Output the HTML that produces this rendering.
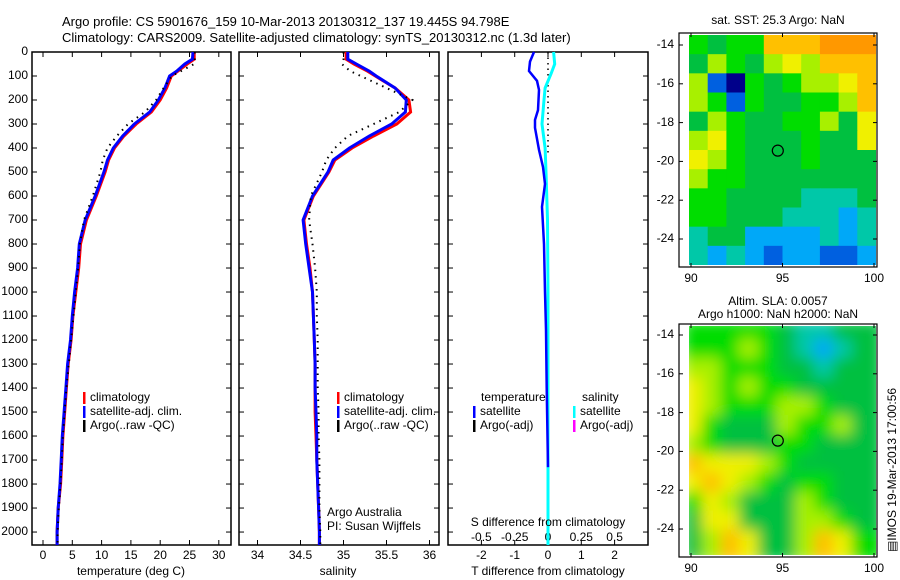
<!DOCTYPE html>
<html><head><meta charset="utf-8">
<style>
html,body{margin:0;padding:0;background:#fff;}
svg{display:block;font-family:"Liberation Sans",sans-serif;font-size:12px;}
</style></head>
<body>
<svg id="fig" width="900" height="580" viewBox="0 0 900 580">
<text x="62" y="26" font-size="13">Argo profile: CS 5901676_159 10-Mar-2013 20130312_137 19.445S 94.798E</text>
<text x="62" y="42" font-size="13">Climatology: CARS2009. Satellite-adjusted climatology: synTS_20130312.nc (1.3d later)</text>
<g id="g"></g>
</svg>
<script>
// ---- data ----
const depths = [0,30,50,80,100,150,200,250,300,350,400,450,500,600,700,800,900,1000,1100,1200,1300,1400,1500,1600,1700,1800,1900,2000,2054];
const tempSat = [25.6,25.5,24.2,22.8,21.6,20.8,19.7,18.2,15.6,13.6,12.0,11.0,10.4,8.9,7.2,6.2,5.9,5.4,5.0,4.7,4.2,3.9,3.6,3.3,3.1,2.9,2.6,2.4,2.4];
const tempClim = [25.8,25.8,24.6,23.0,21.9,21.1,20.0,18.5,15.9,13.8,12.2,11.2,10.6,9.1,7.4,6.4,6.1,5.6,5.1,4.8,4.3,4.0,3.7,3.4,3.2,3.0,2.6,2.4,2.4];
const tempArgo = [25.9,25.9,25.8,23.5,22.0,20.6,19.3,17.4,14.5,12.6,11.0,10.2,9.8,8.5,7.0,6.3,6.0,5.6,5.2,4.8,4.4,4.0,3.7,3.4,3.2,3.0,2.7,2.5,2.5];
const salSat = [35.05,35.05,35.15,35.3,35.38,35.6,35.73,35.72,35.56,35.3,35.07,34.88,34.82,34.64,34.53,34.56,34.6,34.64,34.65,34.66,34.67,34.67,34.68,34.69,34.69,34.70,34.71,34.72,34.72];
const salClim = [35.03,35.03,35.12,35.28,35.37,35.6,35.76,35.78,35.62,35.35,35.1,34.9,34.83,34.65,34.54,34.57,34.61,34.64,34.65,34.66,34.67,34.67,34.67,34.68,34.69,34.70,34.71,34.72,34.72];
const salArgo = [35.0,35.0,34.98,35.08,35.2,35.5,35.8,35.65,35.35,35.05,34.9,34.8,34.75,34.62,34.6,34.64,34.67,34.69,34.69,34.70,34.70,34.70,34.71,34.71,34.72,34.72,34.72,34.73,34.73];
const diffDepths = [0,40,79,120,158,242,283,316,408,479,550,645,800,1000,1158,1400,1730];
const tDiffSat = [-0.42,-0.54,-0.57,-0.33,-0.27,-0.3,-0.39,-0.39,-0.27,-0.15,-0.09,-0.18,-0.12,-0.09,-0.06,-0.04,0.0];
const sDiffDepths = [0,50,88,150,200,300,400,500,700,1000,1500,2054];
const sDiffSat = [0.042,0.05,0.025,-0.022,-0.03,-0.045,-0.022,-0.015,-0.004,0,0,0];
const tempTicks = [0,5,10,15,20,25,30];
const salTicks = [34,34.5,35,35.5,36];
const salTickLabels = ["34","34.5","35","35.5","36"];
const tdTicks = [-2,-1,0,1,2];
const sdTicks = [-0.5,-0.25,0,0.25,0.5];
const sdTickLabels = ["-0.5","-0.25","0","0.25","0.5"];
const depthTicks = [0,100,200,300,400,500,600,700,800,900,1000,1100,1200,1300,1400,1500,1600,1700,1800,1900,2000];
const lonTicks = [90,95,100];
const latTicks = [-14,-16,-18,-20,-22,-24];
const palette = ["#00008a","#0060e0","#00a8f8","#00c8a8","#00c040","#00dd00","#a8f000","#f0f000","#ffc000","#ff9800"];
const sstGrid = [
[5,4,5,5,8,8,8,9,9,9],
[4,6,5,4,6,7,6,8,8,8],
[6,1,0,5,4,5,6,6,7,8],
[6,5,1,5,4,4,5,5,6,8],
[4,6,5,4,4,5,5,6,4,7],
[6,7,5,4,4,4,5,4,4,7],
[7,6,5,4,4,4,5,4,4,4],
[6,5,5,4,4,4,4,4,4,4],
[5,5,4,4,4,4,3,3,3,4],
[5,5,4,4,4,3,3,3,2,3],
[3,4,4,2,2,2,2,3,2,3],
[3,2,3,2,1,2,2,1,1,2]];
const slaGrid = [
[5,5,5,5,5,4,3,3,4,4],
[5,5,5,6,5,4,3,2,3,4],
[6,6,5,5,5,4,4,3,4,4],
[7,6,5,6,5,5,4,4,4,4],
[7,6,5,5,5,6,6,5,4,4],
[7,5,4,4,4,6,5,5,6,4],
[6,5,4,4,4,5,5,4,4,4],
[8,7,7,7,6,5,4,4,4,4],
[7,8,7,6,5,4,5,5,4,4],
[5,7,6,4,4,4,6,5,4,4],
[4,7,7,4,4,4,6,6,5,4],
[4,6,8,7,4,4,6,8,7,5]];
const floatLon = 94.798, floatLat = -19.445;

// ---- helpers ----
const NS="http://www.w3.org/2000/svg";
const G=document.getElementById('g');
function mk(tag,attrs,parent){const e=document.createElementNS(NS,tag);for(const k in attrs)e.setAttribute(k,attrs[k]);(parent||G).appendChild(e);return e;}
function txt(x,y,s,anchor,parent){const t=mk('text',{x:x,y:y,'text-anchor':anchor||'start','dominant-baseline':'middle'},parent);t.textContent=s;return t;}
const Y0=52, Y1=545, D1=2054;
const yD = d => Y0 + d*(Y1-Y0)/D1;
function lin(d0,d1,r0,r1){return v=>r0+(v-d0)*(r1-r0)/(d1-d0);}

function panel(x0,x1,name){
  const r=mk('rect',{x:x0,y:Y0,width:x1-x0,height:Y1-Y0,fill:'none',stroke:'#000','stroke-width':1.5});
  
  
  depthTicks.forEach(d=>{const y=yD(d);mk('line',{x1:x0,y1:y,x2:x0+5,y2:y,stroke:'#000'});mk('line',{x1:x1-5,y1:y,x2:x1,y2:y,stroke:'#000'});});
}
function profile(xs,ds,xf,color,width,dash,name){
  const pts=xs.map((v,i)=>xf(v).toFixed(1)+','+yD(ds[i]).toFixed(1)).join(' ');
  const p=mk('polyline',{points:pts,fill:'none',stroke:color,'stroke-width':width});
  if(dash)p.setAttribute('stroke-dasharray',dash);
  
  
}
function xTicks(x0,x1,ticks,labels,xf){
  ticks.forEach((t,i)=>{const x=xf(t);mk('line',{x1:x,y1:Y0,x2:x,y2:Y0+5,stroke:'#000'});mk('line',{x1:x,y1:Y1-5,x2:x,y2:Y1,stroke:'#000'});
    const l=txt(x,556,labels[i],'middle');});
}

// ---- panel 1 temperature ----
const xT=lin(0,5,43,72.3);
panel(32,231,'temperature-panel');
depthTicks.forEach(d=>{const l=txt(28,yD(d),String(d),'end');});
xTicks(32,231,tempTicks,tempTicks.map(String),xT);
profile(tempClim,depths,xT,'#ff0000',3,null,'temp-climatology-line');
profile(tempSat,depths,xT,'#0000ff',3,null,'temp-satellite-line');
profile(tempArgo,depths,xT,'#000',2,'1.5 5','temp-argo-line');
{const l=txt(131,572,'temperature (deg C)','middle');}
function legend(x,y,items,nm){items.forEach((it,i)=>{mk('rect',{x:x,y:y+i*14-6,width:2.5,height:12,fill:it[1]});const t=txt(x+7,y+i*14,it[0]);});}
legend(83,398,[['climatology','#ff0000'],['satellite-adj. clim.','#0000ff'],['Argo(..raw -QC)','#000']],'temp-legend');

// ---- panel 2 salinity ----
const xS=lin(34,35,257.5,343.5);
panel(239,439,'salinity-panel');
xTicks(239,439,salTicks,salTickLabels,xS);
profile(salClim,depths,xS,'#ff0000',3,null,'sal-climatology-line');
profile(salSat,depths,xS,'#0000ff',3,null,'sal-satellite-line');
profile(salArgo,depths,xS,'#000',2,'1.5 5','sal-argo-line');
{const l=txt(338,572,'salinity','middle');}
legend(337,398,[['climatology','#ff0000'],['satellite-adj. clim.','#0000ff'],['Argo(..raw -QC)','#000']],'sal-legend');
{const a=txt(327,513,'Argo Australia');
 const b=txt(327,527,'PI: Susan Wijffels');}

// ---- panel 3 differences ----
const xD=lin(0,1,548,581.3);
panel(448,648,'difference-panel');
xTicks(448,648,tdTicks,tdTicks.map(String),xD);
sdTicks.forEach((s,i)=>{const l=txt(xD(s*4),538,sdTickLabels[i],'middle');});
{const z=mk('line',{x1:xD(0),y1:yD(0),x2:xD(0),y2:yD(420),stroke:'#000','stroke-width':1.5,'stroke-dasharray':'1.5 4'});}
profile(sDiffSat.map(v=>v*4),sDiffDepths,xD,'#00ffff',3,null,'s-diff-satellite-line');
profile(tDiffSat,diffDepths,xD,'#0000ff',2.5,null,'t-diff-satellite-line');
{const a=txt(548,523,'S difference from climatology','middle');
 const b=txt(548,572,'T difference from climatology','middle');
 const c=txt(481,398,'temperature');
 const d=txt(582,398,'salinity');}
legend(473,412,[['satellite','#0000ff'],['Argo(-adj)','#000']],'tdiff-legend');
legend(573,412,[['satellite','#00ffff'],['Argo(-adj)','#ff00ff']],'sdiff-legend');

// ---- maps ----
function map(top,bottom,grid,title1,title2,name,blur){
  const L=679,R=877, dx0=689, dx1=876;
  const xl=lin(90,100,691,874);
  const dy = top===33 ? [45,239] : [335,529];
  const yl=lin(-14,-24,dy[0],dy[1]);
  const dTop=top+2, dBot=bottom-2;
  const grp=mk('g',{});
  
  
  const cid='clip'+name;
  const cp=mk('clipPath',{id:cid}); mk('rect',{x:dx0,y:dTop,width:dx1-dx0,height:dBot-dTop},cp);
  const inner=mk('g',{'clip-path':'url(#'+cid+')'},grp);
  const inner2=mk('g',blur?{filter:'url(#blur)'}:{},inner);
  const rows=grid.length, cols=grid[0].length;
  const cw=(dx1-dx0)/cols, ch=(dBot-dTop)/rows;
  grid.forEach((row,r)=>row.forEach((v,c)=>{
    const cell=mk('rect',{x:dx0+c*cw-(blur?6:0),y:dTop+r*ch-(blur?6:0),width:cw+0.6+(blur?12:0),height:ch+0.6+(blur?12:0),fill:palette[v]},inner2);
    
    
  }));
  mk('rect',{x:L,y:top,width:R-L,height:bottom-top,fill:'none',stroke:'#000','stroke-width':1.2});
  lonTicks.forEach(v=>{const x=xl(v);mk('line',{x1:x,y1:top,x2:x,y2:top+4,stroke:'#000'});mk('line',{x1:x,y1:bottom-4,x2:x,y2:bottom,stroke:'#000'});
    const t=txt(x,bottom+12,String(v),'middle');});
  latTicks.forEach(v=>{const y=yl(v);mk('line',{x1:L,y1:y,x2:L+4,y2:y,stroke:'#000'});mk('line',{x1:R-4,y1:y,x2:R,y2:y,stroke:'#000'});
    const t=txt(674,y,String(v),'end');});
  const c=mk('circle',{cx:xl(floatLon)-1,cy:yl(floatLat),r:5.5,fill:'none',stroke:'#000','stroke-width':1.2});
  
  
  if(title2){const t=txt(778,top-22,title1,'middle');
    const t2=txt(778,top-9,title2,'middle');}
  else{const t=txt(778,top-12,title1,'middle');}
}
const defs=mk('defs',{});
const f=mk('filter',{id:'blur',x:'-10%',y:'-10%',width:'120%',height:'120%'},defs);
mk('feGaussianBlur',{stdDeviation:7},f);
map(33,267,sstGrid,'sat. SST: 25.3 Argo: NaN',null,'sst-map',false);
map(324,557,slaGrid,'Altim. SLA: 0.0057','Argo h1000: NaN h2000: NaN','sla-map',true);
{const t=mk('text',{x:0,y:0,transform:'translate(893,470) rotate(-90)','text-anchor':'middle','dominant-baseline':'middle'});t.textContent='\u25A4IMOS 19-Mar-2013 17:00:56';
 }
</script>
</body></html>
